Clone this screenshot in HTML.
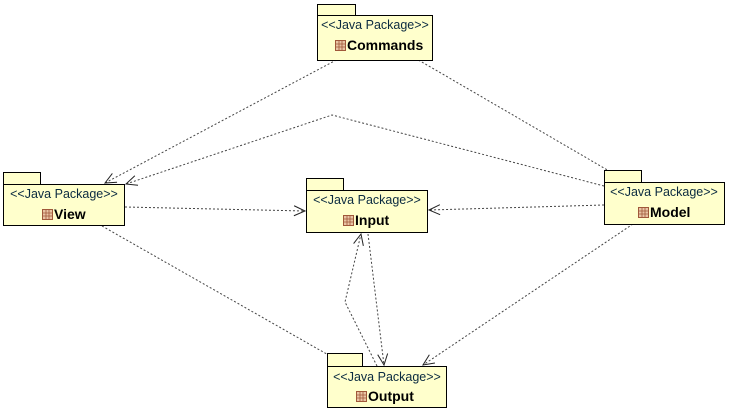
<!DOCTYPE html>
<html><head><meta charset="utf-8"><style>
html,body{margin:0;padding:0;background:#fff;}
svg{display:block;}
.st{font-family:"Liberation Sans",sans-serif;font-size:12.5px;fill:#0a2a40;}
.nm{font-family:"Liberation Sans",sans-serif;font-size:14px;font-weight:bold;fill:#000;}
.ln{fill:none;stroke:#444;stroke-width:1;stroke-dasharray:2,2;}
.bx{fill:#ffffcc;stroke:#000;stroke-width:1;}
</style></head><body>
<svg width="729" height="411" viewBox="0 0 729 411" xmlns="http://www.w3.org/2000/svg">
<defs>
<marker id="a" markerWidth="14" markerHeight="14" refX="12" refY="6" orient="auto" markerUnits="userSpaceOnUse">
<path d="M1,1 L12,6 L1,11" fill="none" stroke="#222" stroke-width="1"/>
</marker>
<g id="ic">
<rect x="0.5" y="0.5" width="10" height="10" fill="#e8c4a4" stroke="#a0583a"/>
<path d="M4,0.5V10.5M7,0.5V10.5M0.5,4H10.5M0.5,7H10.5" stroke="#a0583a" stroke-width="0.8"/>
</g>
</defs>

<path class="ln" d="M340,58 L105,183" marker-end="url(#a)"/>
<path class="ln" d="M415,58 L628,182" marker-end="url(#a)"/>
<path class="ln" d="M604,186 L332,115 L126,184" marker-end="url(#a)"/>
<path class="ln" d="M125,207 L305,211" marker-end="url(#a)"/>
<path class="ln" d="M604,205 L429,210" marker-end="url(#a)"/>
<path class="ln" d="M102,226 L346,365" marker-end="url(#a)"/>
<path class="ln" d="M633,224 L423,365" marker-end="url(#a)"/>
<path class="ln" d="M377,366 L345,302 L361,234" marker-end="url(#a)"/>
<path class="ln" d="M368,234 L384,365" marker-end="url(#a)"/>

<rect class="bx" x="317.5" y="4.5" width="38" height="11"/>
<rect class="bx" x="317.5" y="15.5" width="115" height="45"/>
<text class="st" x="375" y="29" text-anchor="middle">&lt;&lt;Java Package&gt;&gt;</text>
<use href="#ic" x="335" y="40"/>
<text class="nm" x="347" y="50">Commands</text>

<rect class="bx" x="3.5" y="172.5" width="37" height="12"/>
<rect class="bx" x="3.5" y="184.5" width="121" height="41"/>
<text class="st" x="64" y="198" text-anchor="middle">&lt;&lt;Java Package&gt;&gt;</text>
<use href="#ic" x="42" y="209"/>
<text class="nm" x="54" y="219">View</text>

<rect class="bx" x="306.5" y="178.5" width="37" height="12"/>
<rect class="bx" x="306.5" y="190.5" width="121" height="42"/>
<text class="st" x="367" y="204" text-anchor="middle">&lt;&lt;Java Package&gt;&gt;</text>
<use href="#ic" x="343" y="215"/>
<text class="nm" x="355" y="225">Input</text>

<rect class="bx" x="604.5" y="170.5" width="37" height="12"/>
<rect class="bx" x="604.5" y="182.5" width="120" height="42"/>
<text class="st" x="664" y="196" text-anchor="middle">&lt;&lt;Java Package&gt;&gt;</text>
<use href="#ic" x="638" y="207"/>
<text class="nm" x="650" y="217">Model</text>

<rect class="bx" x="327.5" y="353.5" width="35" height="13"/>
<rect class="bx" x="327.5" y="366.5" width="119" height="41"/>
<text class="st" x="387" y="381" text-anchor="middle">&lt;&lt;Java Package&gt;&gt;</text>
<use href="#ic" x="356" y="391"/>
<text class="nm" x="368" y="401">Output</text>
</svg>
</body></html>
